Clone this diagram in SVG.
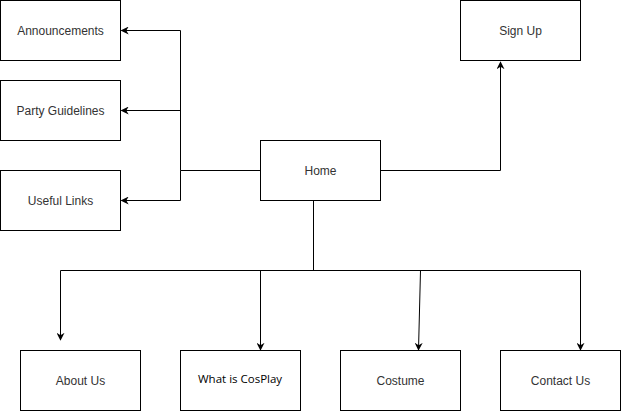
<svg xmlns="http://www.w3.org/2000/svg" width="621" height="411" viewBox="0 0 621 411">
<style>
.box{fill:#fff;stroke:#000;stroke-width:1}
.lbl{font-family:"Liberation Sans",Arial,sans-serif;font-size:12px;fill:#333;text-anchor:middle}
.edge{fill:none;stroke:#000;stroke-width:1}
</style>
<defs>
<marker id="arr" viewBox="0 0 10 10" refX="9" refY="5" markerWidth="8" markerHeight="8" markerUnits="userSpaceOnUse" orient="auto">
<path d="M0,0 L10,5 L0,10 L3,5 Z" fill="#000"/>
</marker>
</defs>
<rect width="621" height="411" fill="#fff"/>
<g id="connectors">
<path class="edge" d="M260.5,170.5 H180.5 V30.5 H121.5" marker-end="url(#arr)"/>
<path class="edge" d="M180.5,110.5 H121.5" marker-end="url(#arr)"/>
<path class="edge" d="M180.5,170.5 V200.5 H121.5" marker-end="url(#arr)"/>
<path class="edge" d="M380.5,170.5 H500.5 V62" marker-end="url(#arr)"/>
<path class="edge" d="M313.5,200.5 V270.5"/>
<path class="edge" d="M60.5,270.5 H580.5"/>
<path class="edge" d="M60.5,270.5 V340" marker-end="url(#arr)"/>
<path class="edge" d="M260.5,270.5 V350" marker-end="url(#arr)"/>
<path class="edge" d="M420.5,270.5 L418.5,350" marker-end="url(#arr)"/>
<path class="edge" d="M580.5,270.5 V350" marker-end="url(#arr)"/>
</g>
<g id="announcements"><rect class="box" x="0.5" y="0.5" width="120" height="60"/><text class="lbl" x="60.5" y="35">Announcements</text></g>
<g id="party-guidelines"><rect class="box" x="0.5" y="80.5" width="120" height="60"/><text class="lbl" x="60.5" y="115">Party Guidelines</text></g>
<g id="useful-links"><rect class="box" x="0.5" y="170.5" width="120" height="60"/><text class="lbl" x="60.5" y="205">Useful Links</text></g>
<g id="home"><rect class="box" x="260.5" y="140.5" width="120" height="60"/><text class="lbl" x="320.5" y="175">Home</text></g>
<g id="sign-up"><rect class="box" x="460.5" y="0.5" width="120" height="60"/><text class="lbl" x="520.5" y="35">Sign Up</text></g>
<g id="about-us"><rect class="box" x="20.5" y="350.5" width="120" height="60"/><text class="lbl" x="80.5" y="385">About Us</text></g>
<g id="what-is-cosplay"><rect class="box" x="180.5" y="350.5" width="120" height="60"/><text x="198" y="383" style="font-family:'Open Sans','Liberation Sans',sans-serif;font-size:11.5px;fill:#000">What is CosPlay</text></g>
<g id="costume"><rect class="box" x="340.5" y="350.5" width="120" height="60"/><text class="lbl" x="400.5" y="385">Costume</text></g>
<g id="contact-us"><rect class="box" x="500.5" y="350.5" width="120" height="60"/><text class="lbl" x="560.5" y="385">Contact Us</text></g>
</svg>
